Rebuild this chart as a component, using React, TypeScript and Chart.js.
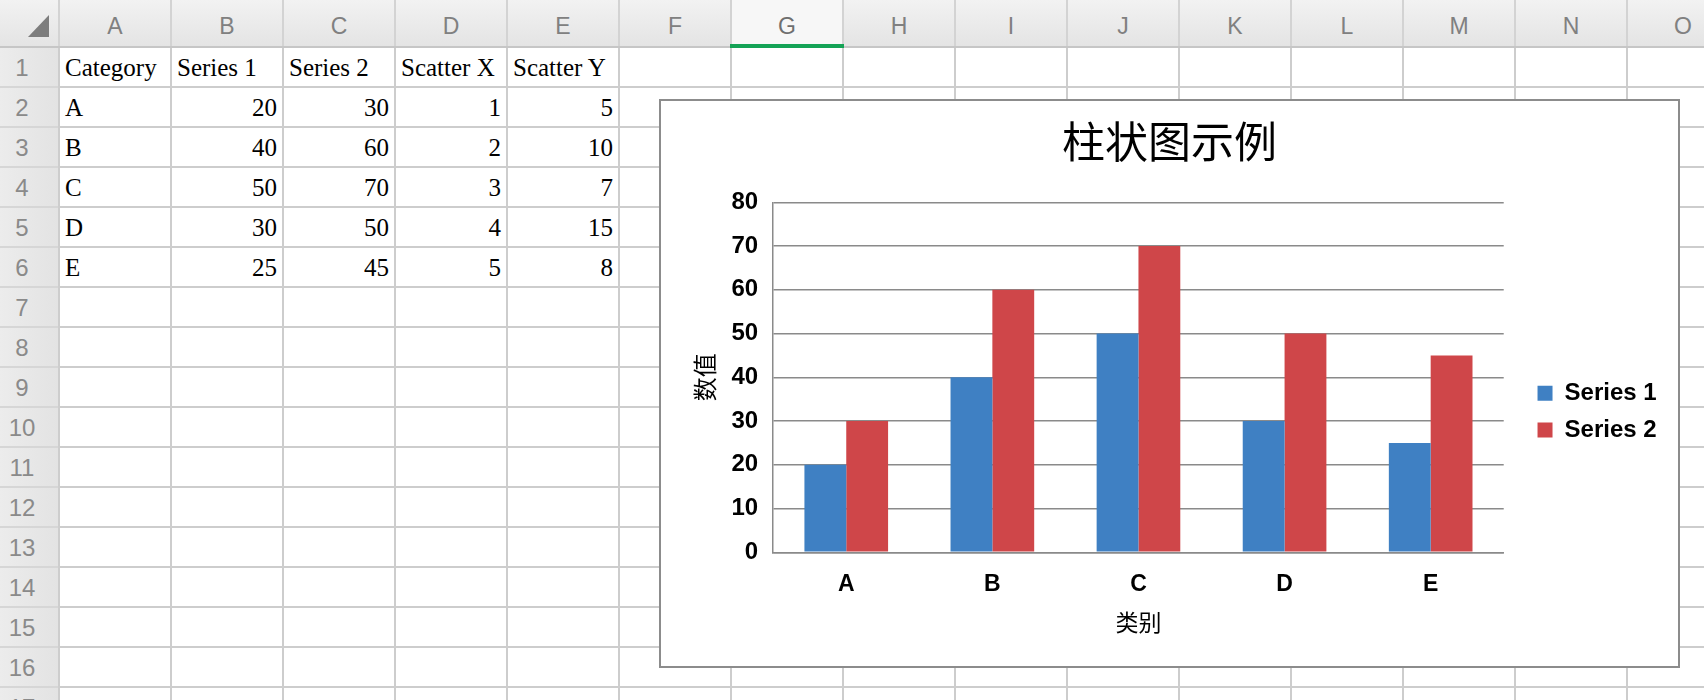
import React, { useEffect, useRef } from 'react';
import { Chart, registerables } from 'chart.js';

Chart.register(...registerables);

// ---- data ----
const headers = ['Category', 'Series 1', 'Series 2', 'Scatter X', 'Scatter Y'];
const categories = ['A', 'B', 'C', 'D', 'E'];
const series1 = [20, 40, 50, 30, 25];
const series2 = [30, 60, 70, 50, 45];
const scatterX = [1, 2, 3, 4, 5];
const scatterY = [5, 10, 7, 15, 8];
const seriesNames = ['Series 1', 'Series 2'];
const seriesColors = ['#3F80C3', '#CF4649'];
const yMin = 0;
const yMax = 80;
const yStep = 10;
const chartTitle = '柱状图示例';
const xAxisTitle = '类别';
const yAxisTitle = '数值';
const columnLetters = ['A', 'B', 'C', 'D', 'E', 'F', 'G', 'H', 'I', 'J', 'K', 'L', 'M', 'N', 'O'];
const rowNumbers = [1, 2, 3, 4, 5, 6, 7, 8, 9, 10, 11, 12, 13, 14, 15, 16, 17];
const selectedColumn = 'G';

// ---- layout constants ----
const COL_W = 112;
const ROW_H = 40;
const HEAD_H = 46;
const ROWHEAD_W = 58;
const W = 1704;
const H = 700;

const SANS = '"Liberation Sans", Arial, Helvetica, sans-serif';
const CJK = '"Noto Sans CJK SC", "Noto Sans", sans-serif';
const SERIF = '"Liberation Serif", "Times New Roman", serif';

function Sheet() {
  const els: React.ReactNode[] = [];
  els.push(
    <div key="colhead" style={{ position: 'absolute', left: 0, top: 0, width: W, height: HEAD_H, background: 'linear-gradient(#f2f2f2, #e4e4e4)' }} />
  );
  els.push(
    <div key="rowhead" style={{ position: 'absolute', left: 0, top: HEAD_H, width: ROWHEAD_W, height: H - HEAD_H, background: 'linear-gradient(90deg, #ececec, #e3e3e3)' }} />
  );
  els.push(
    <div key="tri" style={{ position: 'absolute', left: 28, top: 15, width: 0, height: 0, borderLeft: '21px solid transparent', borderBottom: '22px solid #7d7d7d' }} />
  );
  const gi = columnLetters.indexOf(selectedColumn);
  els.push(
    <div key="gsel" style={{ position: 'absolute', left: ROWHEAD_W + 2 + COL_W * gi, top: 0, width: COL_W - 2, height: HEAD_H, background: '#f7f7f7' }} />
  );
  for (let n = 0; n <= columnLetters.length; n++) {
    const x = ROWHEAD_W + COL_W * n;
    els.push(<div key={'vh' + n} style={{ position: 'absolute', left: x, top: 0, width: 2, height: HEAD_H, background: '#d3d3d3' }} />);
    els.push(<div key={'v' + n} style={{ position: 'absolute', left: x, top: HEAD_H, width: 2, height: H - HEAD_H, background: '#cdcdcd' }} />);
  }
  for (let m = 0; m <= rowNumbers.length; m++) {
    const y = HEAD_H + ROW_H * m;
    els.push(<div key={'hh' + m} style={{ position: 'absolute', left: 0, top: y, width: ROWHEAD_W, height: 2, background: m === 0 ? '#c6c6c6' : '#d6d6d6' }} />);
    els.push(<div key={'h' + m} style={{ position: 'absolute', left: ROWHEAD_W, top: y, width: W - ROWHEAD_W, height: 2, background: m === 0 ? '#c6c6c6' : '#cdcdcd' }} />);
  }
  els.push(
    <div key="green" style={{ position: 'absolute', left: ROWHEAD_W + COL_W * gi, top: 44, width: COL_W + 2, height: 4, background: '#15a356' }} />
  );
  columnLetters.forEach((c, n) => {
    els.push(
      <div key={'cl' + c} style={{ position: 'absolute', fontFamily: SANS, fontSize: 23, lineHeight: '52px', left: ROWHEAD_W + 2 + COL_W * n, top: 0, width: COL_W - 2, height: HEAD_H, textAlign: 'center', color: c === selectedColumn ? '#6f6f6f' : '#808080' }}>{c}</div>
    );
  });
  rowNumbers.forEach((r, i) => {
    els.push(
      <div key={'rn' + r} style={{ position: 'absolute', fontFamily: SANS, fontSize: 24, lineHeight: '39px', left: 0, top: HEAD_H + 2 + ROW_H * i, width: 44, height: ROW_H - 2, textAlign: 'center', color: '#8a8a8a' }}>{r}</div>
    );
  });
  const rows: (string | number)[][] = [headers];
  for (let i = 0; i < categories.length; i++) {
    rows.push([categories[i], series1[i], series2[i], scatterX[i], scatterY[i]]);
  }
  rows.forEach((row, ri) => {
    row.forEach((v, ci) => {
      const isNum = typeof v === 'number';
      els.push(
        <div key={`c${ri}_${ci}`} style={{ position: 'absolute', fontFamily: SERIF, fontSize: 25, lineHeight: '39px', left: ROWHEAD_W + 2 + COL_W * ci, top: HEAD_H + 2 + ROW_H * ri, width: COL_W - 2, height: ROW_H - 2, textAlign: isNum ? 'right' : 'left', padding: '0 5px', boxSizing: 'border-box', color: '#000', whiteSpace: 'nowrap', overflow: 'hidden' }}>{String(v)}</div>
      );
    });
  });
  return <>{els}</>;
}

function BarChart() {
  const ref = useRef<HTMLCanvasElement>(null);
  useEffect(() => {
    if (!ref.current) return;
    const chart = new Chart(ref.current, {
      type: 'bar',
      data: {
        labels: categories,
        datasets: [
          { label: seriesNames[0], data: series1, backgroundColor: seriesColors[0], borderWidth: 0, categoryPercentage: 0.5726, barPercentage: 1 },
          { label: seriesNames[1], data: series2, backgroundColor: seriesColors[1], borderWidth: 0, categoryPercentage: 0.5726, barPercentage: 1 },
        ],
      },
      options: {
        animation: false,
        responsive: false,
        devicePixelRatio: 1,
        layout: { padding: { top: 0, left: 11.4, right: 11.4, bottom: 0 } },
        plugins: {
          title: {
            display: true,
            text: chartTitle,
            color: '#000',
            font: { family: CJK, size: 43, weight: 'normal', lineHeight: 1.2 },
            padding: { top: 14.9, bottom: 34.8 },
          },
          legend: {
            display: true,
            position: 'right',
            align: 'center',
            title: { display: true, text: '', font: { size: 1, lineHeight: 1.2 }, padding: { top: 54.9, bottom: 0 } },
            labels: {
              boxWidth: 15,
              boxHeight: 15,
              padding: 12.7,
              color: '#000',
              font: { family: SANS, size: 24, weight: 'bold' },
            },
          },
          tooltip: { enabled: false },
        },
        scales: {
          x: {
            grid: { display: false, drawTicks: false },
            border: { display: true, color: '#8a8a8a', width: 1.5 },
            ticks: { color: '#000', padding: 19, font: { family: SANS, size: 23, weight: 'bold' } },
            title: { display: true, text: xAxisTitle, color: '#000', font: { family: CJK, size: 23, lineHeight: 1.2 }, padding: { top: 0, bottom: 29.7 } },
            afterFit: (s: any) => { s.height = 113.7; },
          },
          y: {
            min: yMin,
            max: yMax,
            ticks: { stepSize: yStep, color: '#000', padding: 15, font: { family: SANS, size: 24, weight: 'bold' } },
            grid: { color: '#8a8a8a', lineWidth: 1.5, drawTicks: false },
            border: { display: true, color: '#8a8a8a', width: 1.5 },
            title: { display: true, text: yAxisTitle, color: '#000', font: { family: CJK, size: 24, lineHeight: 1.2 }, padding: { top: 17.9, bottom: 0 } },
            afterFit: (s: any) => { s.width = 100.8; },
          },
          y2: {
            type: 'linear',
            position: 'right',
            display: true,
            grid: { display: false, drawTicks: false },
            border: { display: false },
            ticks: { display: false },
            afterFit: (s: any) => { s.width = 21.1; },
          },
        },
      } as any,
    });
    return () => chart.destroy();
  }, []);
  return <canvas ref={ref} width={1017} height={565} style={{ display: 'block', width: 1017, height: 565 }} />;
}

export default function App() {
  return (
    <div style={{ position: 'fixed', left: 0, top: 0, width: W, height: H, overflow: 'hidden', background: '#fff' }}>
      <Sheet />
      <div style={{ position: 'absolute', left: 659, top: 99, width: 1021, height: 569, boxSizing: 'border-box', border: '2px solid #8c8c8c', background: '#fff' }}>
        <BarChart />
      </div>
    </div>
  );
}
